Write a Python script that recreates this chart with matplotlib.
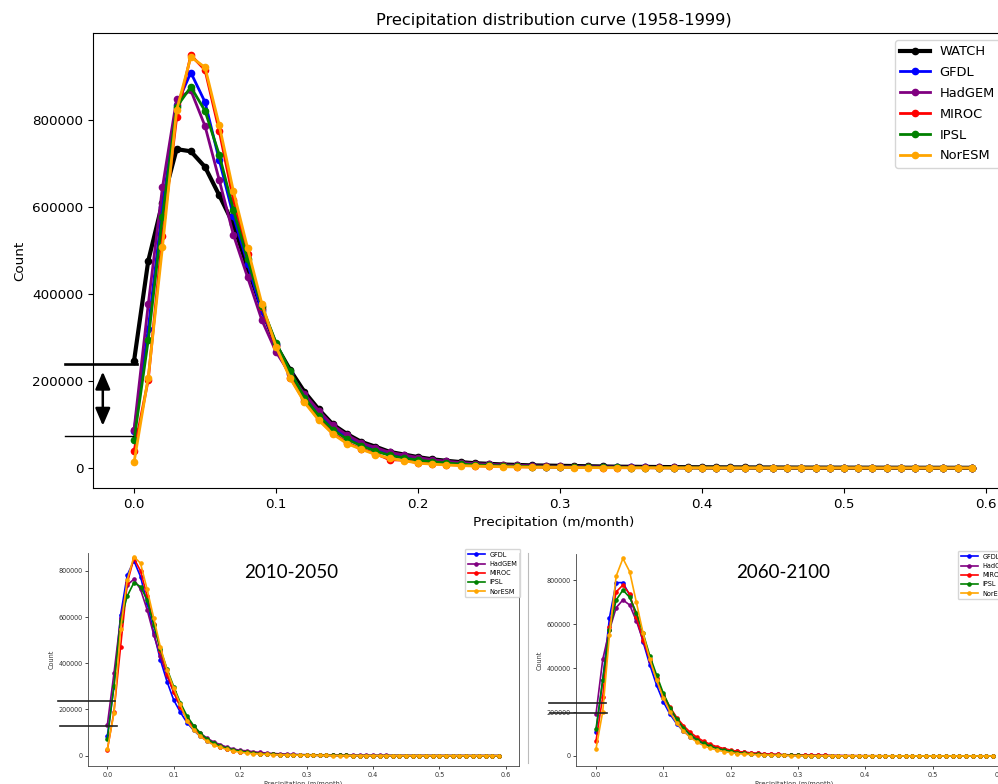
import numpy as np
import matplotlib
matplotlib.use("Agg")
import matplotlib.pyplot as plt
from matplotlib.lines import Line2D

# precipitation bins (m/month)
precip = np.round(np.arange(60) * 0.01, 2)

# ---- 1958-1999 (main panel) ----
watch = [246000, 476000, 610000, 733000, 728000, 692000, 627000, 560000, 460000, 365000,
         282000, 225000, 175000, 135000, 100000, 78000, 60000, 49000, 37000, 31000,
         25000, 20000, 16500, 13500, 11000, 9500, 8000, 7000, 6000, 5500,
         5000, 4500, 4000, 3500, 3000, 2800, 2500, 2200, 2000, 1800,
         1600, 1500, 1400, 1300, 1200, 1100, 1000, 900, 850, 800,
         750, 700, 650, 600, 550, 500, 480, 450, 420, 400]
gfdl = [84000, 320000, 600000, 835000, 909000, 841000, 708000, 579000, 470000, 360000,
        285000, 218000, 165000, 125000, 92000, 70000, 54000, 42000, 32000, 25000,
        20000, 16000, 12500, 10000, 8000, 6500, 5500, 4500, 3800, 3200,
        2800, 2400, 2100, 1800, 1600, 1400, 1200, 1100, 1000, 900,
        800, 700, 650, 600, 550, 500, 450, 420, 400, 380,
        350, 320, 300, 280, 260, 240, 220, 200, 190, 180]
hadgem = [88000, 376000, 645000, 848000, 868000, 786000, 662000, 536000, 438000, 340000,
          267000, 215000, 170000, 132000, 98000, 76000, 58000, 47000, 36000, 30000,
          24000, 19000, 15500, 12500, 10000, 8500, 7000, 6000, 5000, 4300,
          3700, 3200, 2800, 2400, 2100, 1800, 1600, 1400, 1250, 1100,
          1000, 900, 820, 750, 680, 620, 560, 510, 470, 430,
          400, 370, 340, 310, 290, 270, 250, 230, 210, 200]
miroc = [38000, 203000, 533000, 806000, 949000, 915000, 775000, 616000, 492000, 370000,
         280000, 208000, 153000, 112000, 80000, 58000, 44000, 33000, 19000, 18000,
         12000, 10000, 8000, 6500, 5200, 4300, 3500, 2900, 2400, 2000,
         1700, 1400, 1200, 1000, 850, 700, 600, 500, 430, 370,
         320, 280, 240, 210, 180, 160, 140, 120, 110, 100,
         90, 80, 70, 60, 55, 50, 45, 40, 35, 30]
ipsl = [64000, 294000, 578000, 830000, 876000, 821000, 720000, 593000, 480000, 372000,
        288000, 222000, 162000, 120000, 88000, 66000, 51000, 39000, 29000, 23000,
        18000, 14500, 11500, 9000, 7200, 5800, 4700, 3900, 3200, 2700,
        2300, 1900, 1600, 1400, 1200, 1000, 900, 800, 700, 600,
        520, 460, 410, 370, 330, 300, 270, 240, 220, 200,
        180, 160, 150, 140, 130, 120, 110, 100, 90, 80]
noresm = [13000, 208000, 507000, 823000, 945000, 921000, 788000, 636000, 505000, 378000,
          279000, 206000, 151000, 110000, 78000, 56000, 43000, 31000, 22000, 17000,
          11000, 9000, 7000, 5500, 4500, 3600, 2900, 2400, 2000, 1600,
          1300, 1100, 900, 750, 620, 520, 440, 370, 310, 260,
          220, 190, 160, 140, 120, 100, 90, 80, 70, 60,
          50, 45, 40, 35, 30, 28, 25, 22, 20, 18]

# shared tails (0.21 .. 0.59) for the small panels
tail_hi = [21000, 17000, 14000, 11500, 9500, 8000, 6800, 5800, 5000, 4300,
           3700, 3200, 2800, 2400, 2100, 1800, 1600, 1400, 1250, 1100,
           1000, 900, 820, 750, 680, 620, 560, 510, 470, 430,
           400, 370, 340, 310, 290, 270, 250, 230, 210]
tail_mid = [15000, 12000, 9500, 7500, 6000, 4900, 4000, 3300, 2800, 2300,
            1900, 1600, 1400, 1200, 1000, 900, 800, 700, 600, 520,
            460, 410, 370, 330, 300, 270, 240, 220, 200, 180,
            160, 150, 140, 130, 120, 110, 100, 90, 80]
tail_lo = [11000, 8500, 6800, 5400, 4400, 3600, 2900, 2400, 2000, 1700,
           1400, 1200, 1000, 850, 700, 600, 500, 430, 370, 320,
           280, 240, 210, 180, 160, 140, 120, 110, 100, 90,
           80, 70, 60, 55, 50, 45, 40, 35, 30]

# ---- 2010-2050 ----
f1_gfdl = [85000, 299000, 609000, 782000, 844000, 775000, 660000, 530000, 414000, 320000,
           241000, 188000, 143000, 110000, 84000, 65000, 50000, 39000, 30000, 23000,
           18000] + tail_mid
f1_hadgem = [133000, 357000, 595000, 739000, 764000, 720000, 631000, 523000, 430000, 345000,
             275000, 215000, 165000, 128000, 98000, 76000, 60000, 48000, 37000, 29000,
             23000] + tail_hi
f1_miroc = [25000, 190000, 472000, 746000, 855000, 800000, 690000, 570000, 455000, 355000,
            275000, 210000, 158000, 118000, 88000, 66000, 50000, 38000, 29000, 22000,
            17000] + tail_mid
f1_ipsl = [71000, 303000, 585000, 691000, 749000, 732000, 674000, 565000, 460000, 375000,
           299000, 229000, 172000, 130000, 97000, 73000, 55000, 42000, 32000, 25000,
           19000] + tail_mid
f1_noresm = [28000, 184000, 547000, 761000, 862000, 833000, 720000, 595000, 469000, 371000,
             292000, 222000, 150000, 112000, 84000, 62000, 47000, 36000, 27000, 20000,
             15000] + tail_lo

# ---- 2060-2100 ----
f2_gfdl = [111000, 346000, 630000, 790000, 790000, 733000, 630000, 520000, 415000, 323000,
           247000, 190000, 146000, 113000, 88000, 69000, 54000, 43000, 34000, 27000,
           22000] + tail_mid
f2_hadgem = [191000, 440000, 574000, 676000, 711000, 688000, 615000, 525000, 435000, 350000,
             275000, 213000, 165000, 128000, 100000, 78000, 61000, 48000, 38000, 30000,
             24000] + tail_hi
f2_miroc = [68000, 270000, 586000, 748000, 779000, 738000, 635000, 530000, 440000, 355000,
            280000, 222000, 175000, 138000, 108000, 85000, 67000, 53000, 42000, 34000,
            27000] + tail_hi
f2_ipsl = [123000, 346000, 575000, 711000, 756000, 723000, 653000, 559000, 456000, 369000,
           286000, 220000, 168000, 128000, 97000, 74000, 57000, 44000, 34000, 27000,
           21000] + tail_mid
f2_noresm = [32000, 202000, 551000, 820000, 900000, 840000, 700000, 559000, 440000, 345000,
             265000, 200000, 150000, 113000, 85000, 63000, 47000, 35000, 27000, 20000,
             15000] + tail_lo

model_names = ["GFDL", "HadGEM", "MIROC", "IPSL", "NorESM"]
model_colors = ["blue", "purple", "red", "green", "orange"]

W, H = 998, 784
fig = plt.figure(figsize=(W / 100, H / 100), dpi=100)


def px_axes(l, t, r, b):
    return fig.add_axes([l / W, 1 - b / H, (r - l) / W, (b - t) / H])


# ---------------- main panel ----------------
ax = px_axes(93, 33, 1014, 488)
ax.plot(precip, watch, "-o", color="black", lw=3, ms=4.5, label="WATCH")
for name, vals, c in zip(model_names, [gfdl, hadgem, miroc, ipsl, noresm], model_colors):
    ax.plot(precip, vals, "-o", color=c, lw=2, ms=4.5, label=name)

ax.set_xlim(-0.0289, 0.6197)
ax.set_ylim(-46000, 1000000)
yt = [0, 200000, 400000, 600000, 800000]
ax.set_yticks(yt)
ax.set_yticklabels([str(v) for v in yt], fontsize=9.7)
xt = [0.0, 0.1, 0.2, 0.3, 0.4, 0.5, 0.6]
ax.set_xticks(xt)
ax.set_xticklabels(["%.1f" % v for v in xt], fontsize=9.7)
ax.set_title("Precipitation distribution curve (1958-1999)", fontsize=11.7)
ax.set_xlabel("Precipitation (m/month)", fontsize=9.7)
ax.set_ylabel("Count", fontsize=9.7)
ax.legend(loc="upper left", bbox_to_anchor=(895 / W, 1 - 40 / H),
          bbox_transform=fig.transFigure, borderaxespad=0,
          fontsize=9.4, handlelength=2.3, labelspacing=0.6, handletextpad=0.7)

# hand drawn marks: gap between WATCH and models at 0
ax.plot([-0.0486, 0.002], [238400, 238400], color="black", lw=1.9, clip_on=False, zorder=5)
ax.plot([-0.0486, -0.0007], [74300, 74300], color="black", lw=1.0, clip_on=False, zorder=5)
ax.annotate("", xy=(-0.022, 97200), xytext=(-0.022, 221400),
            arrowprops=dict(arrowstyle="<|-|>,head_width=0.45,head_length=1.05",
                            color="black", lw=1.8, shrinkA=0, shrinkB=0),
            annotation_clip=False)


# ---------------- small panels ----------------
def small_panel(ax, series, xlim, ylim, marks):
    for name, vals, c in zip(model_names, series, model_colors):
        ax.plot(precip, vals, "-o", color=c, lw=1.2, ms=2.3, label=name)
    ax.set_xlim(*xlim)
    ax.set_ylim(*ylim)
    ax.set_yticks(yt)
    ax.set_yticklabels([str(v) for v in yt], fontsize=4.7, color="#333333")
    ax.set_xticks(xt)
    ax.set_xticklabels(["%.1f" % v for v in xt], fontsize=4.7, color="#333333")
    ax.tick_params(length=2, width=0.5, pad=2)
    for s in ax.spines.values():
        s.set_linewidth(0.6)
        s.set_color("#444444")
    ax.spines["top"].set_visible(False)
    ax.set_xlabel("Precipitation (m/month)", fontsize=4.7, labelpad=2, color="#333333")
    ax.set_ylabel("Count", fontsize=4.7, labelpad=3, color="#333333")
    for (x0, x1, y) in marks:
        ax.plot([x0, x1], [y, y], color="#222222", lw=1.2, clip_on=False, zorder=5)


ax1 = px_axes(88, 553, 519, 766)
small_panel(ax1, [f1_gfdl, f1_hadgem, f1_miroc, f1_ipsl, f1_noresm],
            (-0.0291, 0.620), (-44600, 877500),
            [(-0.0738, 0.0116, 236800), (-0.0708, 0.0151, 129900)])
ax1.legend(loc="upper left", bbox_to_anchor=(465 / W, 1 - 549 / H),
           bbox_transform=fig.transFigure, borderaxespad=0, fontsize=4.7,
           handlelength=2.6)

ax2 = px_axes(576, 554, 1013, 766)
small_panel(ax2, [f2_gfdl, f2_hadgem, f2_miroc, f2_ipsl, f2_noresm],
            (-0.0297, 0.6195), (-45600, 920300),
            [(-0.0694, 0.0149, 242800), (-0.0684, 0.0168, 194500)])
ax2.legend(loc="upper left", bbox_to_anchor=(958 / W, 1 - 551 / H),
           bbox_transform=fig.transFigure, borderaxespad=0, fontsize=4.7,
           handlelength=2.6)

fig.text(291 / W, 1 - 573 / H, "2010-2050", ha="center", va="center",
         fontsize=13.5, family="Lato")
fig.text(783 / W, 1 - 573 / H, "2060-2100", ha="center", va="center",
         fontsize=13.5, family="Lato")

# edge of the left screenshot
fig.add_artist(Line2D([528 / W, 528 / W], [1 - 553 / H, 1 - 763 / H],
                      transform=fig.transFigure, color="#bbbbbb", lw=0.8))

fig.savefig("out.png", dpi=100)
